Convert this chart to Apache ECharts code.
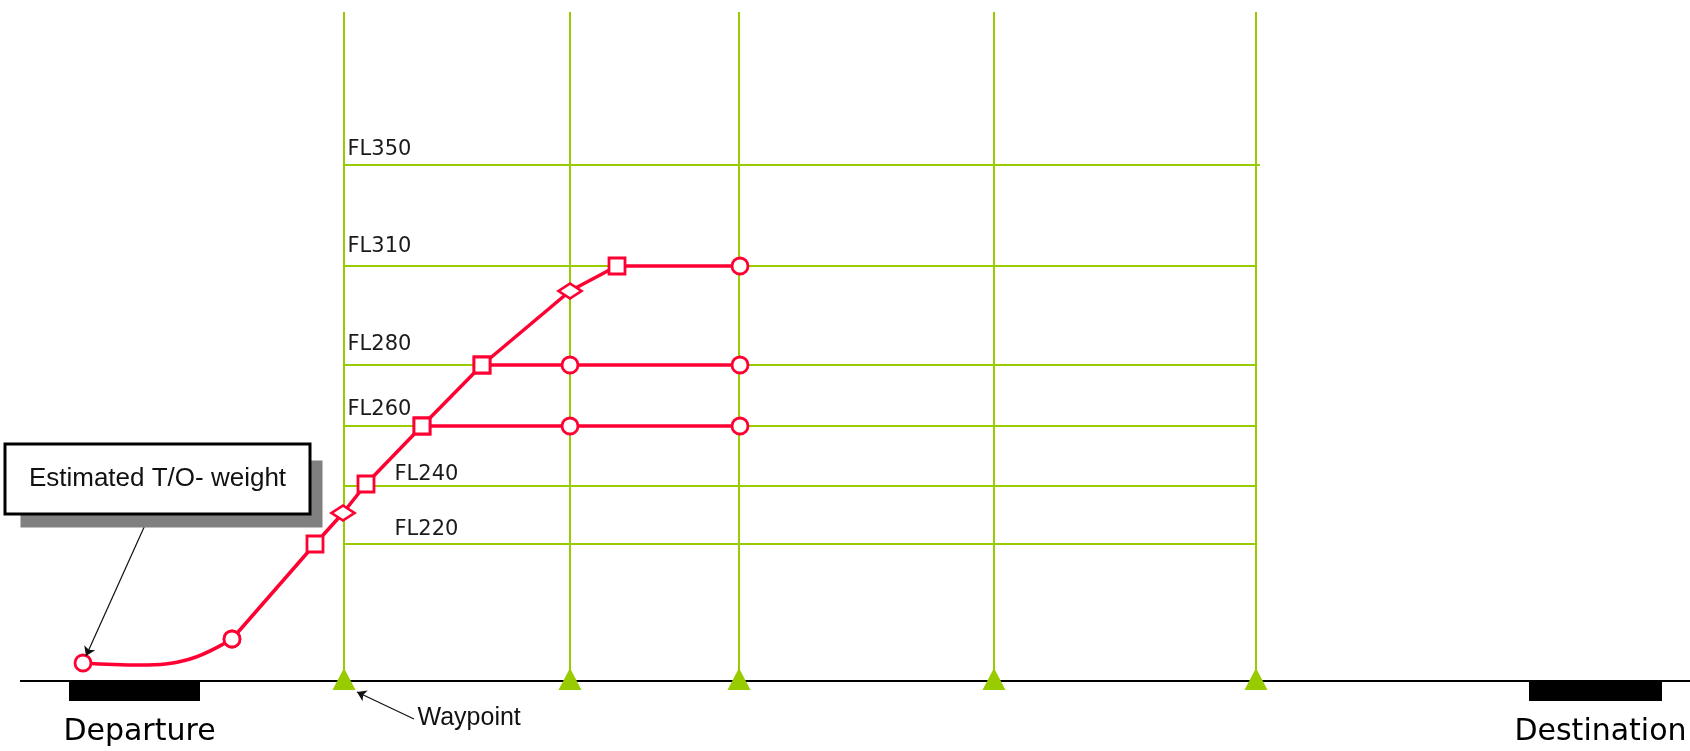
<!DOCTYPE html>
<html><head><meta charset="utf-8">
<script src="https://cdn.jsdelivr.net/npm/echarts@6/dist/echarts.min.js"></script>
<style>html,body{margin:0;padding:0;background:#fff}#c{width:1690px;height:751px}</style>
</head><body><div id="c"></div>
<script>
// ---------- data (schematic units: along-route distance / display height) ----------
const waypointDist = [344, 570, 739, 994, 1256];
const waypointTop = 669;

const levelNames   = ['FL350', 'FL310', 'FL280', 'FL260', 'FL240', 'FL220'];
const levelHeights = [516, 415, 316, 255, 195, 137];
const levelStart   = 344;
const levelEnd     = [1260, 1256, 1256, 1256, 1256, 1256];

// take-off roll (curved part)
const takeoffDist   = [83, 140, 190, 232];
const takeoffHeight = [18, 16, 22, 42];
const takeoffKind   = ['estimate', 'none', 'none', 'estimate'];

// main climb to FL310
const climbDist   = [232, 315, 343, 366, 422, 482, 570, 617, 740];
const climbHeight = [42, 137, 168, 197, 255, 316, 390, 415, 415];
const climbKind   = ['estimate', 'levelChange', 'waypoint', 'levelChange', 'levelChange', 'levelChange', 'waypoint', 'levelChange', 'estimate'];

// level-off branches
const fl280Dist   = [482, 570, 740];
const fl280Height = [316, 316, 316];
const fl280Kind   = ['levelChange', 'estimate', 'estimate'];
const fl260Dist   = [422, 570, 740];
const fl260Height = [255, 255, 255];
const fl260Kind   = ['levelChange', 'estimate', 'estimate'];

const airports   = ['Departure', 'Destination'];
const runwayFrom = [69, 1529];
const runwayTo   = [200, 1662];
const groundFrom = 20, groundTo = 1690;

const calloutText  = 'Estimated T/O- weight';
const calloutAt    = [157.5, 202];
const calloutArrow = [[150, 167], [86, 25]];
const waypointText  = 'Waypoint';
const waypointArrow = [[414, -38], [357, -11]];

// ---------- styles / layout ----------
const GREEN = '#99cc00', RED = '#ff0033';
const levelLabelX = [348, 348, 348, 348, 395, 395];
const levelLabelLift = [14.5, 18.5, 19.5, 15.5, 11, 13.5];
const kindSymbol = {
  estimate:    { symbol: 'circle',  symbolSize: 16 },
  levelChange: { symbol: 'rect',    symbolSize: 16 },
  waypoint:    { symbol: 'diamond', symbolSize: [23, 15] },
  none:        { symbol: 'none',    symbolSize: 0 }
};
const HIDDEN = { color: 'rgba(0,0,0,0)', opacity: 1 };
function pts(xs, ys, kinds) {
  return xs.map((x, i) => Object.assign({ value: [x, ys[i]] }, kindSymbol[kinds[i]]));
}
function redLine(name, xs, ys, kinds, smooth) {
  return {
    name, type: 'line', z: 5, smooth: smooth || false,
    data: pts(xs, ys, kinds), showSymbol: true,
    lineStyle: { color: RED, width: 3.5 },
    itemStyle: { color: '#fff', borderColor: RED, borderWidth: 2.8 },
    emphasis: { disabled: true }
  };
}

const chart = echarts.init(document.getElementById('c'));
chart.setOption({
  animation: false,
  backgroundColor: '#fff',
  grid: { left: 0, right: 0, top: 0, bottom: 0 },
  xAxis: { type: 'value', min: 0, max: 1690, show: false },
  yAxis: { type: 'value', min: -70, max: 681, show: false },
  series: [
    // waypoint verticals
    {
      type: 'lines', coordinateSystem: 'cartesian2d', z: 1,
      lineStyle: { color: GREEN, width: 2, opacity: 1 },
      data: waypointDist.map(x => ({ coords: [[x, 0], [x, waypointTop]] }))
    },
    // flight level lines
    {
      type: 'lines', coordinateSystem: 'cartesian2d', z: 1,
      lineStyle: { color: GREEN, width: 2, opacity: 1 },
      data: levelHeights.map((h, i) => ({ coords: [[levelStart, h], [levelEnd[i], h]] }))
    },
    // flight level labels
    {
      type: 'scatter', z: 4, symbolSize: 1, itemStyle: HIDDEN, silent: true,
      label: {
        show: true, position: [0, 0], align: 'left', verticalAlign: 'middle',
        fontFamily: 'DejaVu Sans', fontSize: 21, color: '#1a1a1a',
        formatter: p => p.data.name
      },
      data: levelNames.map((n, i) => ({ name: n, value: [levelLabelX[i], levelHeights[i]], label: { offset: [0, -levelLabelLift[i]] } }))
    },
    // ground line
    {
      type: 'lines', coordinateSystem: 'cartesian2d', z: 2,
      lineStyle: { color: '#000', width: 2, opacity: 1 },
      data: [{ coords: [[groundFrom, 0], [groundTo, 0]] }]
    },
    // runways
    {
      type: 'custom', z: 3, silent: true,
      renderItem: (params, api) => {
        const a = api.coord([api.value(0), 0]);
        const b = api.coord([api.value(1), 0]);
        return { type: 'rect', shape: { x: a[0], y: a[1] + 1, width: b[0] - a[0], height: 19 }, style: { fill: '#000' } };
      },
      encode: { x: [0, 1] },
      data: airports.map((n, i) => [runwayFrom[i], runwayTo[i]])
    },
    // airport names
    {
      type: 'scatter', z: 4, symbolSize: 1, itemStyle: HIDDEN, silent: true,
      label: {
        show: true, position: 'inside', offset: [5, 51],
        fontFamily: 'DejaVu Sans', fontSize: 30, color: '#000',
        formatter: p => p.data.name
      },
      data: airports.map((n, i) => ({ name: n, value: [(runwayFrom[i] + runwayTo[i]) / 2, 0] }))
    },
    // waypoint triangles
    {
      type: 'scatter', z: 3, symbol: 'triangle', symbolSize: [23, 22], symbolOffset: [0, -2],
      itemStyle: { color: GREEN, opacity: 1 }, silent: true,
      data: waypointDist.map(x => [x, 0])
    },
    // red profile
    redLine('takeoff', takeoffDist, takeoffHeight, takeoffKind, 0.4),
    redLine('climb', climbDist, climbHeight, climbKind),
    redLine('FL280', fl280Dist, fl280Height, fl280Kind),
    redLine('FL260', fl260Dist, fl260Height, fl260Kind),
    // callout shadow
    {
      type: 'scatter', z: 6, symbolSize: 1, itemStyle: HIDDEN, silent: true,
      label: {
        show: true, position: 'inside', offset: [14, 15], formatter: ' ',
        width: 302, height: 67, backgroundColor: '#808080'
      },
      data: [calloutAt]
    },
    // callout box
    {
      type: 'scatter', z: 7, symbolSize: 1, itemStyle: HIDDEN, silent: true,
      label: {
        show: true, position: 'inside', formatter: calloutText,
        width: 302, height: 67, lineHeight: 67, align: 'center', verticalAlign: 'middle',
        backgroundColor: '#fff', borderColor: '#000', borderWidth: 3,
        fontFamily: 'Liberation Sans', fontSize: 26, color: '#111'
      },
      data: [calloutAt]
    },
    // waypoint text
    {
      type: 'scatter', z: 6, symbolSize: 1, itemStyle: HIDDEN, silent: true,
      label: {
        show: true, position: [0, 0], align: 'left', verticalAlign: 'middle', formatter: waypointText,
        fontFamily: 'Liberation Sans', fontSize: 25, color: '#111'
      },
      data: [[waypointArrow[0][0] + 4, waypointArrow[0][1]]]
    },
    // annotation arrows
    {
      type: 'lines', coordinateSystem: 'cartesian2d', z: 6,
      symbol: ['none', 'arrow'], symbolSize: 9,
      lineStyle: { color: '#111', width: 1.2, opacity: 1 },
      data: [{ coords: calloutArrow }, { coords: waypointArrow }]
    }
  ]
});
</script>
</body></html>
